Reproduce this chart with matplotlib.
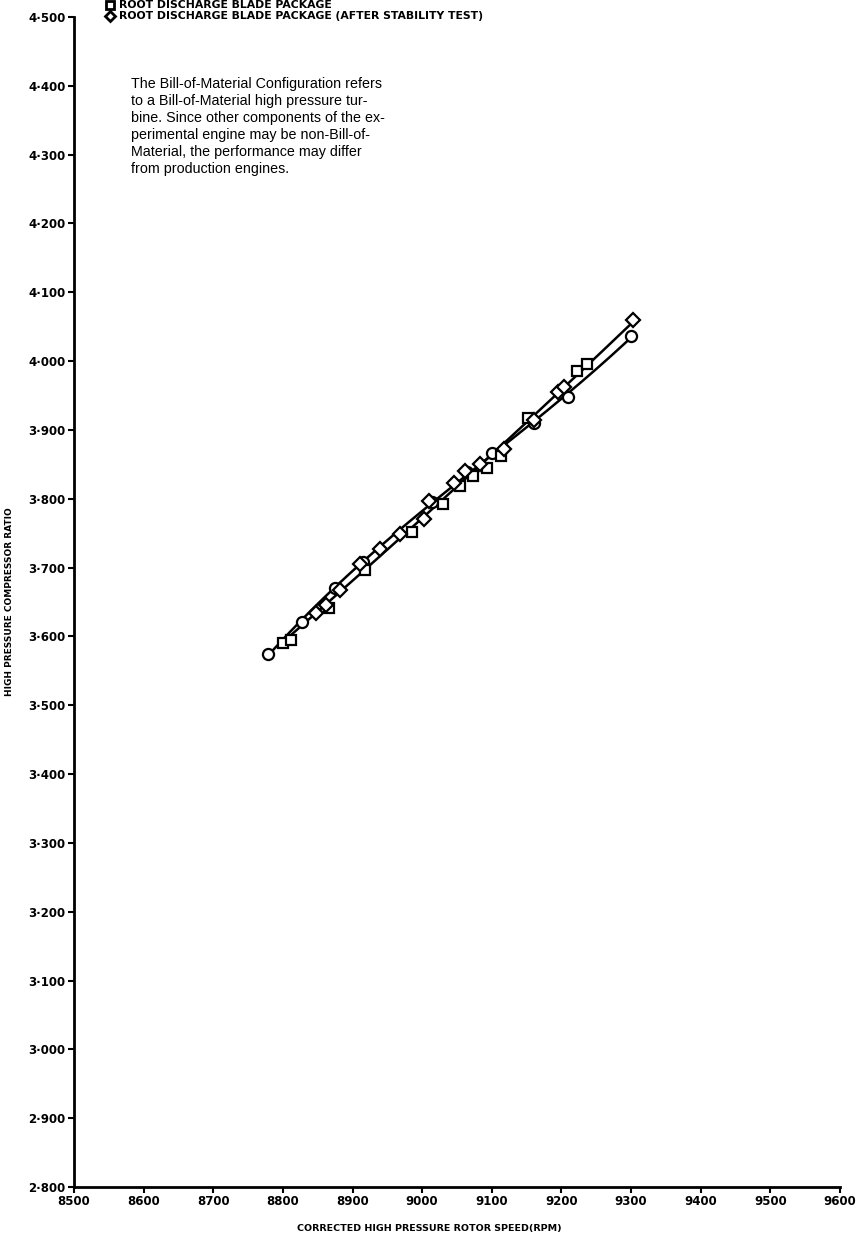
import numpy as np
import matplotlib
matplotlib.use("Agg")
import matplotlib.pyplot as plt
from matplotlib.ticker import FixedLocator, FuncFormatter

# Bill-of-Material configuration (circles)
bom_rpm = [8778, 8828, 8875, 8915, 9014, 9064, 9100, 9160, 9210, 9300]
bom_ratio = [3.575, 3.621, 3.670, 3.708, 3.795, 3.839, 3.866, 3.910, 3.948, 4.037]

# Root discharge blade package (squares)
rdb_rpm = [8800, 8812, 8866, 8918, 8985, 9030, 9055, 9073, 9093, 9113, 9152, 9223, 9237]
rdb_ratio = [3.591, 3.595, 3.642, 3.696, 3.752, 3.792, 3.818, 3.833, 3.845, 3.862, 3.918, 3.985, 3.996]

# Root discharge blade package after stability test (diamonds)
rds_rpm = [8848, 8862, 8882, 8910, 8940, 8968, 9003, 9010, 9045, 9062, 9083, 9117, 9160, 9195, 9203, 9303]
rds_ratio = [3.634, 3.645, 3.668, 3.705, 3.727, 3.749, 3.770, 3.797, 3.823, 3.840, 3.850, 3.872, 3.915, 3.955, 3.962, 4.060]

x_ticks = [8500, 8600, 8700, 8800, 8900, 9000, 9100, 9200, 9300, 9400, 9500, 9600]
y_ticks = [2.8, 2.9, 3.0, 3.1, 3.2, 3.3, 3.4, 3.5, 3.6, 3.7, 3.8, 3.9, 4.0, 4.1, 4.2, 4.3, 4.4, 4.5]

legend_lines = [
    ("s", "ROOT DISCHARGE BLADE PACKAGE"),
    ("D", "ROOT DISCHARGE BLADE PACKAGE (AFTER STABILITY TEST)"),
]

note = ("The Bill-of-Material Configuration refers\n"
        "to a Bill-of-Material high pressure tur-\n"
        "bine. Since other components of the ex-\n"
        "perimental engine may be non-Bill-of-\n"
        "Material, the performance may differ\n"
        "from production engines.")

W, H = 861, 1245
fig = plt.figure(figsize=(W / 100, H / 100), dpi=100)
ax = fig.add_axes([74 / W, 1 - 1187 / H, (840 - 74) / W, (1187 - 17) / H])

# faired curves through the two test configurations
def faired(xs, ys, deg=3):
    xs = np.asarray(xs, float)
    ys = np.asarray(ys, float)
    c = np.polyfit(xs - 9000, ys, deg)
    xx = np.linspace(xs.min(), xs.max(), 200)
    return xx, np.polyval(c, xx - 9000)

xx, yy = faired(bom_rpm, bom_ratio)
ax.plot(xx, yy, color="black", lw=1.8, zorder=2)
xx, yy = faired(rdb_rpm + rds_rpm, rdb_ratio + rds_ratio, deg=2)
ax.plot(xx, yy, color="black", lw=1.8, zorder=2)

mk = dict(linestyle="none", markerfacecolor="white", markeredgecolor="black",
          markeredgewidth=1.6, zorder=3)
ax.plot(bom_rpm, bom_ratio, marker="o", markersize=8, **mk)
ax.plot(rdb_rpm, rdb_ratio, marker="s", markersize=7.5, **mk)
ax.plot(rds_rpm, rds_ratio, marker="D", markersize=7, **mk)

ax.set_xlim(8500, 9600)
ax.set_ylim(2.8, 4.5)
ax.xaxis.set_major_locator(FixedLocator(x_ticks))
ax.yaxis.set_major_locator(FixedLocator(y_ticks))
ax.yaxis.set_major_formatter(FuncFormatter(lambda v, p: f"{v:.3f}".replace(".", "\u00b7")))
ax.xaxis.set_major_formatter(FuncFormatter(lambda v, p: f"{v:.0f}"))

for s in ("top", "right"):
    ax.spines[s].set_visible(False)
for s in ("left", "bottom"):
    ax.spines[s].set_linewidth(2.0)
ax.tick_params(axis="both", direction="out", length=4, width=1.5, pad=2)
for lab in ax.get_xticklabels() + ax.get_yticklabels():
    lab.set_fontweight("bold")
    lab.set_fontsize(8.5)
    lab.set_family("DejaVu Sans")

fig.text(10 / W, 1 - 602 / H, "HIGH PRESSURE COMPRESSOR RATIO", rotation=90,
         ha="center", va="center", fontsize=6.5, fontweight="bold")
fig.text(429 / W, 1 - 1228 / H, "CORRECTED HIGH PRESSURE ROTOR SPEED(RPM)",
         ha="center", va="center", fontsize=6.8, fontweight="bold")

# key at the head of the sheet
for yp, (m, txt) in zip([5, 16], legend_lines):
    fig.lines.append(plt.Line2D([110 / W], [1 - yp / H], transform=fig.transFigure,
                                marker=m, markersize=5.5 if m != "D" else 5,
                                markerfacecolor="white", markeredgecolor="black",
                                markeredgewidth=2.0, linestyle="none"))
    fig.text(119 / W, 1 - yp / H, txt, ha="left", va="center",
             fontsize=7.8, fontweight="bold", family="DejaVu Sans")

fig.text(131 / W, 1 - 77 / H, note, ha="left", va="top", fontsize=10.3,
         family="Liberation Sans", linespacing=1.27)

fig.savefig("out.png", dpi=100)
